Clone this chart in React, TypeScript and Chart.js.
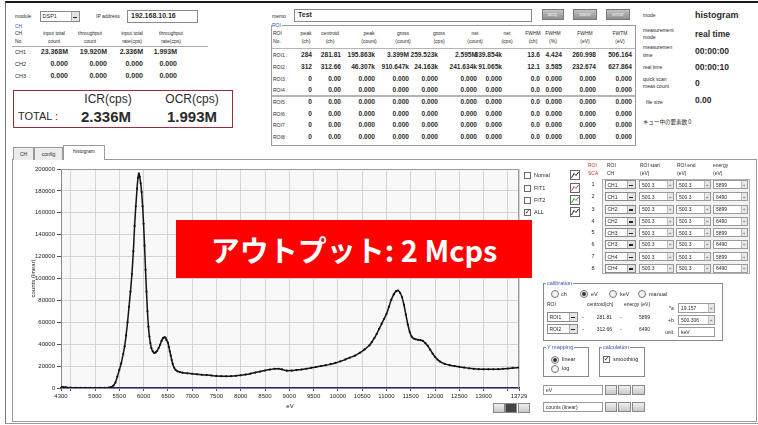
import React, { useEffect, useRef } from "react";
import { Chart, registerables } from "chart.js";
Chart.register(...registerables);

// ---------- spectrum data ----------
const ENERGY_EV = [
  4300, 4350, 4400, 4500, 4600, 4700, 4800, 4900, 5000, 5100,
  5200, 5280, 5330, 5380, 5420, 5460, 5500, 5540, 5580, 5610,
  5640, 5670, 5700, 5730, 5760, 5790, 5815, 5840, 5865, 5885,
  5903, 5920, 5940, 5960, 5980, 6000, 6020, 6040, 6060, 6080,
  6100, 6120, 6140, 6160, 6190, 6220, 6250, 6280, 6310, 6340,
  6370, 6400, 6430, 6450, 6470, 6500, 6520, 6540, 6560, 6580,
  6600, 6630, 6660, 6700, 6750, 6800, 6900, 7000, 7100, 7200,
  7300, 7400, 7500, 7600, 7700, 7800, 7900, 8000, 8100, 8200,
  8300, 8400, 8500, 8600, 8700, 8780, 8850, 8950, 9050, 9150,
  9250, 9350, 9450, 9550, 9650, 9750, 9850, 9950, 10050, 10150,
  10250, 10350, 10450, 10550, 10650, 10700, 10750, 10800, 10850, 10900,
  10950, 11000, 11050, 11100, 11150, 11200, 11240, 11280, 11320, 11360,
  11400, 11440, 11480, 11520, 11560, 11600, 11650, 11700, 11750, 11800,
  11850, 11900, 11950, 12000, 12050, 12100, 12200, 12300, 12400, 12500,
  12600, 12700, 12800, 12900, 13000, 13100, 13200, 13300, 13400, 13500,
  13600, 13729,
];
const COUNTS = [
  1200, 900, 600, 300, 150, 100, 80, 60, 50, 50,
  100, 300, 900, 2200, 5000, 10500, 16500, 22500, 31000, 38000,
  48000, 60000, 74000, 88000, 104000, 125000, 148000, 166000, 182000, 192000,
  195863, 193000, 187000, 179000, 166000, 150000, 130000, 108000, 88000, 70000,
  56000, 47000, 41000, 36500, 33500, 32000, 32500, 34000, 36500, 39500,
  43000, 45500, 46300, 46000, 44000, 41500, 37500, 33500, 29500, 25500,
  22000, 18500, 16500, 15200, 14500, 14000, 13400, 13000, 12500, 12100,
  11800, 11400, 11000, 10800, 10700, 10800, 11100, 11600, 12300, 13100,
  14100, 15000, 16000, 16800, 17500, 17600, 17000, 15800, 15900, 16400,
  16900, 17600, 18400, 19200, 20000, 20800, 21800, 22900, 24300, 26000,
  27800, 29500, 32000, 35200, 39000, 42000, 45500, 49500, 54000, 58500,
  63000, 67500, 74000, 80500, 85500, 88500, 89000, 87000, 83000, 76000,
  67000, 58000, 51000, 47000, 45200, 44500, 44000, 43700, 43000, 41000,
  38500, 35000, 31500, 28500, 26000, 24200, 22000, 20800, 20000, 19300,
  18700, 18000, 17500, 17200, 17100, 17100, 17100, 17200, 17500, 17800,
  18300, 18700,
];
const X_TICKS = [4300, 4500, 5000, 5500, 6000, 6500, 7000, 7500, 8000, 8500, 9000, 9500, 10000, 10500, 11000, 11500, 12000, 12500, 13000, 13500, 13729];
const X_TICK_LABELS = ["4300", "", "5000", "5500", "6000", "6500", "7000", "7500", "8000", "8500", "9000", "9500", "10000", "10500", "11000", "11500", "12000", "12500", "13000", "", "13729"];
const Y_TICKS = [0, 20000, 40000, 60000, 80000, 100000, 120000, 140000, 160000, 180000, 200000];

// ---------- UI table data ----------
const CH_NAMES = ["CH1", "CH2", "CH3"];
const CH_VALUES = [
  ["23.368M", "19.920M", "2.336M", "1.993M"],
  ["0.000", "0.000", "0.000", "0.000"],
  ["0.000", "0.000", "0.000", "0.000"],
];
const ROI_HEADERS = [["peak", "(ch)"], ["centroid", "(ch)"], ["peak", "(count)"], ["gross", "(count)"], ["gross", "(cps)"], ["net", "(count)"], ["net", "(cps)"], ["FWHM", "(ch)"], ["FWHM", "(%)"], ["FWHM", "(eV)"], ["FWTM", "(eV)"]];
const ROI_ROWS = [
  ["284", "281.81", "195.863k", "3.399M", "259.523k", "2.595M", "339.854k", "13.6", "4.424", "260.998", "506.164"],
  ["312", "312.66", "46.307k", "910.647k", "24.163k", "241.634k", "91.065k", "12.1", "3.585", "232.674", "627.864"],
  ["0", "0.00", "0.000", "0.000", "0.000", "0.000", "0.000", "0.0", "0.000", "0.000", "0.000"],
  ["0", "0.00", "0.000", "0.000", "0.000", "0.000", "0.000", "0.0", "0.000", "0.000", "0.000"],
  ["0", "0.00", "0.000", "0.000", "0.000", "0.000", "0.000", "0.0", "0.000", "0.000", "0.000"],
  ["0", "0.00", "0.000", "0.000", "0.000", "0.000", "0.000", "0.0", "0.000", "0.000", "0.000"],
  ["0", "0.00", "0.000", "0.000", "0.000", "0.000", "0.000", "0.0", "0.000", "0.000", "0.000"],
  ["0", "0.00", "0.000", "0.000", "0.000", "0.000", "0.000", "0.0", "0.000", "0.000", "0.000"],
];
const SCA_CH = ["CH1", "CH1", "CH2", "CH2", "CH3", "CH3", "CH4", "CH4"];
const SCA_START = ["500.3", "500.3", "500.3", "500.3", "500.3", "500.3", "500.3", "500.3"];
const SCA_END = ["500.3", "500.3", "500.3", "500.3", "500.3", "500.3", "500.3", "500.3"];
const SCA_ENERGY = ["5899", "6490", "5899", "6490", "5899", "6490", "5899", "6490"];

// ---------- layout constants ----------
const FONT = "'Liberation Sans', Arial, sans-serif";
const BLUE = "#3552b0";
const CH_COL_RIGHT = [68, 107, 143, 177];
const CH_HEAD_CENTER = [54, 90, 132, 171];
const CH_ROW_Y = [52, 64, 76];
const ROI_COL_RIGHT = [312, 341, 375, 409, 438, 477, 502, 540, 562, 596, 632];
const ROI_HEAD_CENTER = [306, 330, 369, 403, 439, 475, 507, 533, 553, 585, 620];
const ROI_ROW_Y = [55, 66.5, 78.5, 89.5, 102, 113.5, 125, 136.5];
const SCA_ROW_Y = [184.7, 196.7, 209.3, 221, 232.7, 244.3, 256.7, 268.3];

function T({ x, y, s = 5.5, b = false, c = "#2a2a2a", a = "l", f = FONT, children }: any) {
  const st: any = {
    position: "absolute", left: x, top: y - s * 0.6, fontSize: s, lineHeight: `${s * 1.2}px`,
    fontWeight: b ? 700 : 400, color: c, whiteSpace: "nowrap", fontFamily: f,
  };
  if (a === "r") st.transform = "translateX(-100%)";
  if (a === "c") st.transform = "translateX(-50%)";
  return <div style={st}>{children}</div>;
}
function Bx({ x, y, w, h, style }: any) {
  return <div style={{ position: "absolute", left: x, top: y, width: w, height: h, boxSizing: "border-box", ...style }} />;
}
function Drop({ x, y, w, h, text, s = 5.5 }: any) {
  return (
    <>
      <Bx x={x} y={y} w={w} h={h} style={{ border: "1px solid #8a8a8a", background: "#fff" }} />
      <T x={x + 2.5} y={y + h / 2} s={s}>{text}</T>
      <Bx x={x + w - 9} y={y + 1} w={8} h={h - 2} style={{ background: "#e4e4e4", borderLeft: "1px solid #aaa" }} />
      <Bx x={x + w - 7} y={y + h / 2} w={4} h={1.5} style={{ background: "#222" }} />
    </>
  );
}
function Spin({ x, y, w, h, text, spinner = true }: any) {
  return (
    <>
      <Bx x={x} y={y} w={w} h={h} style={{ border: "1px solid #9a9a9a", background: "#fff" }} />
      <T x={x + 3} y={y + h / 2} s={5}>{text}</T>
      {spinner && <Bx x={x + w - 7} y={y + 1} w={6} h={h - 2} style={{ background: "#e8e8e8", borderLeft: "1px solid #bbb" }} />}
      {spinner && <T x={x + w - 4} y={y + h / 2} s={5} a="c" c="#557">÷</T>}
    </>
  );
}
function Check({ x, y, on }: any) {
  return (
    <>
      <Bx x={x} y={y} w={7} h={7} style={{ border: "1px solid #6a6a6a", background: "#fff" }} />
      {on && <T x={x + 3.6} y={y + 3.6} s={7} a="c" b f="'DejaVu Sans'">✓</T>}
    </>
  );
}
function Radio({ cx, cy, on }: any) {
  return (
    <>
      <Bx x={cx - 4} y={cy - 4} w={8} h={8} style={{ border: "1px solid #777", borderRadius: "50%", background: "#f4f4f4" }} />
      {on && <Bx x={cx - 2} y={cy - 2} w={4} h={4} style={{ borderRadius: "50%", background: "#333" }} />}
    </>
  );
}
function Btn({ x, y, w, h, dark }: any) {
  return <Bx x={x} y={y} w={w} h={h} style={{ border: "1px solid #888", background: dark ? "#444" : "linear-gradient(#f0f0f0,#c8c8c8)" }} />;
}
function Icon({ x, y, color }: any) {
  return (
    <svg style={{ position: "absolute", left: x, top: y }} width={10} height={10}>
      <rect x={0.5} y={0.5} width={9} height={9} fill="#fff" stroke="#666" />
      <polyline points="1.5,8 4,3.5 6,5.5 8.5,2" fill="none" stroke={color} strokeWidth={1} />
    </svg>
  );
}
function Group({ x, y, w, h, label }: any) {
  return (
    <>
      <Bx x={x} y={y} w={w} h={h} style={{ border: "1px solid #8a8a8a" }} />
      <div style={{ position: "absolute", left: x + 3, top: y - 3.5, fontSize: 5.5, lineHeight: "7px", color: BLUE, background: "#fff", padding: "0 1px", fontFamily: FONT, whiteSpace: "nowrap" }}>{label}</div>
    </>
  );
}

const bgPlugin = {
  id: "plotBg",
  beforeDraw(chart: any) {
    const { ctx, chartArea: a } = chart;
    ctx.save();
    ctx.fillStyle = "#f8f8f8";
    ctx.fillRect(a.left, a.top, a.right - a.left, a.bottom - a.top);
    ctx.restore();
  },
  beforeDatasetsDraw(chart: any) {
    const { ctx, chartArea: a } = chart;
    ctx.save();
    ctx.strokeStyle = "#9a9a9a";
    ctx.lineWidth = 1;
    ctx.beginPath();
    ctx.moveTo(a.left, a.top + 0.5);
    ctx.lineTo(a.right - 0.5, a.top + 0.5);
    ctx.lineTo(a.right - 0.5, a.bottom);
    ctx.stroke();
    ctx.restore();
  },
};

function SpectrumChart() {
  const ref = useRef<HTMLCanvasElement>(null);
  useEffect(() => {
    const tickFont = { size: 6, family: FONT };
    const chart = new Chart(ref.current as any, {
      type: "line",
      data: {
        datasets: [{
          data: ENERGY_EV.map((x, i) => ({ x, y: COUNTS[i] })),
          borderColor: "#141414", borderWidth: 1.5,
          pointRadius: 1.1, pointBackgroundColor: "#141414", pointBorderWidth: 0,
          cubicInterpolationMode: "monotone", fill: false,
        }],
      },
      options: {
        animation: false, responsive: false, maintainAspectRatio: false,
        layout: { padding: { top: 9, right: 11, left: 0, bottom: 0 } },
        plugins: { legend: { display: false }, tooltip: { enabled: false } },
        scales: {
          x: {
            type: "linear", min: 4300, max: 13729,
            afterBuildTicks: (s: any) => { s.ticks = X_TICKS.map((v) => ({ value: v })); },
            afterFit: (s: any) => { s.height = 30; },
            ticks: { autoSkip: false, maxRotation: 0, minRotation: 0, font: tickFont, color: "#222", padding: 2,
              callback: (_v: any, i: number) => X_TICK_LABELS[i] },
            grid: { color: "#d4d4d4", tickLength: 3, tickColor: "#555" },
            border: { color: "#262673", width: 1.5 },
            title: { display: true, text: "eV", font: tickFont, color: "#222", padding: { top: 0, bottom: 8 } },
          },
          y: {
            min: 0, max: 200000,
            afterBuildTicks: (s: any) => { s.ticks = Y_TICKS.map((v) => ({ value: v })); },
            afterFit: (s: any) => { s.width = 47; },
            ticks: { font: tickFont, color: "#222", padding: 2, callback: (v: any) => String(v) },
            grid: { color: "#d4d4d4", tickLength: 4, tickColor: "#555" },
            border: { color: "#8a8a8a", width: 1 },
            title: { display: true, text: "counts (linear)", font: tickFont, color: "#222", padding: { top: 16, bottom: 0 } },
          },
        },
      } as any,
      plugins: [bgPlugin],
    });
    return () => chart.destroy();
  }, []);
  return <canvas ref={ref} width={516} height={258} style={{ position: "absolute", left: 14, top: 160, width: 516, height: 258 }} />;
}

export default function App() {
  return (
    <div style={{ position: "absolute", left: 0, top: 0, width: 758, height: 425, overflow: "hidden", background: "#fff", fontFamily: FONT }}>
      {/* outer frame */}
      <Bx x={5} y={1} w={753} h={423} style={{ borderTop: "2px solid #1a1a1a", borderLeft: "1px solid #777", borderBottom: "1px solid #999" }} />

      {/* ---- top-left: module / channels ---- */}
      <T x={15} y={16} s={5}>module</T>
      <Drop x={40} y={11} w={40} h={11} text="DSP1" />
      <T x={96} y={16} s={5}>IP address</T>
      <Bx x={127} y={10} w={71} h={13} style={{ border: "1px solid #8a8a8a", background: "#fff" }} />
      <T x={131} y={16.5} s={7} b>192.168.10.16</T>
      <T x={15} y={25.5} s={5} c={BLUE}>CH</T>
      <T x={15} y={33} s={5}>CH</T>
      <T x={15} y={41} s={5}>No.</T>
      {[["input total", "count"], ["throughput", "count"], ["input total", "rate(cps)"], ["throughput", "rate(cps)"]].map((h, i) => (
        <React.Fragment key={i}>
          <T x={CH_HEAD_CENTER[i]} y={33} s={5} a="c">{h[0]}</T>
          <T x={CH_HEAD_CENTER[i]} y={41} s={5} a="c">{h[1]}</T>
        </React.Fragment>
      ))}
      <Bx x={12} y={46} w={196} h={1} style={{ background: "#aaa" }} />
      {CH_NAMES.map((n, r) => (
        <React.Fragment key={n}>
          <T x={15} y={CH_ROW_Y[r]} s={5.5}>{n}</T>
          <T x={29} y={CH_ROW_Y[r]} s={5.5}>:</T>
          {CH_VALUES[r].map((v, c) => <T key={c} x={CH_COL_RIGHT[c]} y={CH_ROW_Y[r]} s={7} b a="r">{v}</T>)}
        </React.Fragment>
      ))}

      {/* TOTAL box */}
      <Bx x={13} y={90} w={220} h={38} style={{ border: "1.5px solid #9a2b3b" }} />
      <T x={108} y={99.5} s={12} a="c">ICR(cps)</T>
      <T x={192} y={99.5} s={12} a="c">OCR(cps)</T>
      <T x={18} y={116.5} s={11}>TOTAL :</T>
      <T x={81} y={116.5} s={15} b>2.336M</T>
      <T x={167} y={116.5} s={15} b>1.993M</T>

      {/* ---- top-middle: memo + ROI table ---- */}
      <T x={272} y={15.5} s={5}>memo</T>
      <Bx x={294} y={9} w={238} h={13} style={{ border: "1px solid #8a8a8a", background: "#fff" }} />
      <T x={298} y={15.5} s={7} b>Test</T>
      <Bx x={271} y={25} w={365} h={121} style={{ border: "1px solid #9a9a9a" }} />
      <div style={{ position: "absolute", left: 272, top: 21.5, fontSize: 5, lineHeight: "6px", color: BLUE, background: "#fff", paddingRight: 1, fontFamily: FONT }}>ROI</div>
      <T x={273} y={33} s={5}>ROI</T>
      <T x={273} y={41} s={5}>No.</T>
      {ROI_HEADERS.map((h, i) => (
        <React.Fragment key={i}>
          <T x={ROI_HEAD_CENTER[i]} y={33} s={5} a="c">{h[0]}</T>
          <T x={ROI_HEAD_CENTER[i]} y={41} s={5} a="c">{h[1]}</T>
        </React.Fragment>
      ))}
      <Bx x={272} y={47.5} w={363} h={1.5} style={{ background: "#b5b5b5" }} />
      <Bx x={272} y={95} w={363} h={1.5} style={{ background: "#b5b5b5" }} />
      {ROI_ROWS.map((row, r) => (
        <React.Fragment key={r}>
          <T x={273} y={ROI_ROW_Y[r]} s={5}>{`ROI${r + 1} :`}</T>
          {row.map((v, c) => <T key={c} x={ROI_COL_RIGHT[c]} y={ROI_ROW_Y[r]} s={6.6} b a="r">{v}</T>)}
        </React.Fragment>
      ))}

      {/* buttons */}
      {[["acq.", 542, 22], ["save", 573, 24], ["error", 606, 24]].map(([t, x, w]: any) => (
        <React.Fragment key={t}>
          <Bx x={x} y={9} w={w} h={11} style={{ border: "1px solid #777", background: "linear-gradient(#c4c4c4,#8e8e8e)" }} />
          <T x={x + w / 2} y={14.5} s={5.5} a="c" c="#eee">{t}</T>
        </React.Fragment>
      ))}

      {/* ---- top-right: status ---- */}
      <T x={643} y={15} s={5}>mode</T>
      <T x={695} y={15} s={9} b>histogram</T>
      <T x={643} y={30} s={5}>measurement</T>
      <T x={643} y={37} s={5}>mode</T>
      <T x={695} y={34} s={8.5} b>real time</T>
      <T x={643} y={47} s={5}>measuremen</T>
      <T x={643} y={55} s={5}>time</T>
      <T x={695} y={51} s={8.5} b>00:00:00</T>
      <T x={643} y={67} s={5}>real time</T>
      <T x={695} y={67} s={8.5} b>00:00:10</T>
      <T x={643} y={79} s={5}>quick scan</T>
      <T x={643} y={86} s={5}>meas count</T>
      <T x={695} y={83} s={8.5} b>0</T>
      <T x={646} y={102} s={5}>file size</T>
      <T x={695} y={100} s={8.5} b>0.00</T>
      <T x={643} y={122} s={5.5} f="'Noto Sans CJK JP', sans-serif">キュー中の要素数 0</T>

      {/* ---- tabs ---- */}
      <Bx x={12} y={159} w={745} h={263} style={{ border: "1px solid #9a9a9a", background: "#fff" }} />
      <Bx x={13} y={147} w={21} h={12.5} style={{ border: "1px solid #9a9a9a", borderBottom: "none", background: "#ececec" }} />
      <T x={23.5} y={153.5} s={5} a="c">CH</T>
      <Bx x={34} y={147} w={29} h={12.5} style={{ border: "1px solid #9a9a9a", borderBottom: "none", background: "#ececec" }} />
      <T x={48.5} y={153.5} s={5} a="c">config</T>
      <Bx x={63} y={145} w={42} h={15} style={{ border: "1px solid #9a9a9a", borderBottom: "none", background: "#fff" }} />
      <T x={84} y={151} s={5} a="c">histogram</T>

      {/* ---- chart ---- */}
      <SpectrumChart />
      {[493, 505, 518].map((x, i) => <Btn key={x} x={x} y={403} w={12} h={10} dark={i === 1} />)}

      {/* red banner */}
      <div style={{ position: "absolute", left: 176, top: 220, width: 356, height: 58, background: "#ff0000", color: "#fff", fontFamily: "'Noto Sans CJK JP', sans-serif", fontWeight: 700, fontSize: 29, lineHeight: "58px", textAlign: "center", whiteSpace: "nowrap" }}>
        アウトプット: 2 Mcps
      </div>

      {/* ---- right controls: plot selection ---- */}
      {[["Nomal", 175, false, "#222"], ["FIT1", 188, false, "#d04848"], ["FIT2", 200, false, "#3c9a3c"], ["ALL", 212, true, "#222"]].map(([t, y, on, col]: any) => (
        <React.Fragment key={t}>
          <Check x={524} y={y - 3.5} on={on} />
          <T x={534} y={y} s={5.5}>{t}</T>
          <Icon x={570} y={y - 5} color={col} />
        </React.Fragment>
      ))}

      {/* ROI SCA table */}
      <T x={588} y={165} s={5} c="#c83030">ROI</T>
      <T x={588} y={173} s={5} c="#c83030">SCA</T>
      <T x={607} y={165} s={5}>ROI</T>
      <T x={607} y={173} s={5}>CH</T>
      <T x={640} y={165} s={5}>ROI start</T>
      <T x={640} y={173} s={5}>(eV)</T>
      <T x={677} y={165} s={5}>ROI end</T>
      <T x={677} y={173} s={5}>(eV)</T>
      <T x={713} y={165} s={5}>energy</T>
      <T x={713} y={173} s={5}>(eV)</T>
      <Bx x={602} y={179} w={148} h={95} style={{ border: "1px solid #b0b0b0", background: "#f2f2f2" }} />
      {SCA_ROW_Y.map((y, r) => (
        <React.Fragment key={r}>
          <T x={593} y={y} s={5.5} a="c">{String(r + 1)}</T>
          <Drop x={605} y={y - 4.5} w={31} h={9} text={SCA_CH[r]} s={5} />
          <Spin x={639} y={y - 4.5} w={35} h={9} text={SCA_START[r]} />
          <Spin x={676} y={y - 4.5} w={35} h={9} text={SCA_END[r]} />
          <Spin x={713} y={y - 4.5} w={35} h={9} text={SCA_ENERGY[r]} />
        </React.Fragment>
      ))}

      {/* calibration */}
      <Group x={543} y={283} w={180} h={58} label="calibration" />
      <Radio cx={555} cy={294} on={false} /><T x={561} y={294} s={5.5}>ch</T>
      <Radio cx={584} cy={294} on={true} /><T x={591} y={294} s={5.5}>eV</T>
      <Radio cx={613} cy={294} on={false} /><T x={620} y={294} s={5.5}>keV</T>
      <Radio cx={642} cy={294} on={false} /><T x={649} y={294} s={5.5}>manual</T>
      <T x={547} y={304} s={5}>ROI</T>
      <T x={587} y={304} s={5}>centroid(ch)</T>
      <T x={624} y={304} s={5}>energy (eV)</T>
      <Drop x={547} y={312} w={31} h={9.5} text="ROI1" s={5} />
      <Drop x={547} y={324} w={31} h={9.5} text="ROI2" s={5} />
      <T x={582} y={317} s={5}>-</T>
      <T x={582} y={328.5} s={5}>-</T>
      <T x={612} y={317} s={5} a="r">281.81</T>
      <T x={612} y={328.5} s={5} a="r">312.66</T>
      <T x={620} y={317} s={5}>-</T>
      <T x={620} y={328.5} s={5}>-</T>
      <T x={650} y={317} s={5} a="r">5899</T>
      <T x={650} y={328.5} s={5} a="r">6490</T>
      <T x={669} y={307.5} s={5}>*a</T>
      <T x={668} y={319.5} s={5}>+b</T>
      <T x={665} y={331.5} s={5}>unit</T>
      <Spin x={678} y={303} w={37} h={9.5} text="19.157" />
      <Spin x={678} y={315} w={37} h={9.5} text="500.306" />
      <Spin x={678} y={327} w={37} h={9.5} text="keV" spinner={false} />

      {/* Y mapping / calculation */}
      <Group x={543} y={347} w={46} h={30} label="Y mapping" />
      <Radio cx={555} cy={359.5} on={true} /><T x={562} y={359.5} s={5.5}>linear</T>
      <Radio cx={555} cy={368.5} on={false} /><T x={562} y={368.5} s={5.5}>log</T>
      <Group x={599} y={347} w={46} h={30} label="calculation" />
      <Check x={603} y={356} on={true} />
      <T x={613} y={359.5} s={5.5}>smoothing</T>

      {/* axis name rows */}
      <Bx x={543} y={385} w={60} h={10} style={{ border: "1px solid #9a9a9a", background: "#fff" }} />
      <T x={546} y={390} s={5}>eV</T>
      <Bx x={543} y={402} w={60} h={10} style={{ border: "1px solid #9a9a9a", background: "#fff" }} />
      <T x={546} y={407} s={5}>counts (linear)</T>
      {[385, 402].map((y) => (
        <React.Fragment key={y}>
          <Btn x={605} y={y} w={12} h={10} />
          <Btn x={618} y={y} w={13} h={10} />
          <Btn x={632} y={y} w={13} h={10} />
        </React.Fragment>
      ))}
    </div>
  );
}
